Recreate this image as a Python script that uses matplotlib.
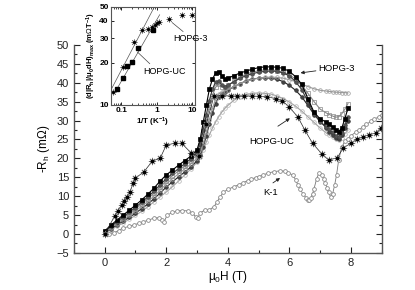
import matplotlib
matplotlib.use("Agg")
import matplotlib.pyplot as plt
from matplotlib.ticker import MultipleLocator, FixedLocator, NullFormatter, LogLocator

plt.rcParams['font.family'] = ['Liberation Sans', 'DejaVu Sans']
plt.rcParams['mathtext.fontset'] = 'custom'
plt.rcParams['mathtext.rm'] = 'Liberation Sans'
plt.rcParams['mathtext.it'] = 'Liberation Sans:italic'
plt.rcParams['mathtext.bf'] = 'Liberation Sans:bold'

# --- HOPG-3 curves at several temperatures (shared field grid) ---
field = [0, 0.2, 0.4, 0.6, 0.8, 1.0, 1.2, 1.4, 1.6, 1.8, 2.0, 2.2, 2.4, 2.6, 2.8, 3.0,
         3.1, 3.2, 3.3, 3.4, 3.5, 3.6, 3.7, 3.8, 3.9, 4.0, 4.2, 4.4, 4.6, 4.8, 5.0, 5.2,
         5.4, 5.6, 5.8, 6.0, 6.2, 6.4, 6.6, 6.8, 7.0, 7.2, 7.3, 7.4, 7.5, 7.6, 7.7, 7.8, 7.9]
hopg3_a = [0.8, 2.3, 3.7, 5.0, 6.3, 7.6, 9.0, 10.5, 12.1, 14.0, 15.6, 16.9, 18.2, 19.4, 20.6, 22.3,
           25.0, 29.5, 34.0, 38.3, 41.0, 42.5, 42.9, 41.8, 41.1, 41.2, 41.9, 42.6, 43.1, 43.6, 44.0, 44.2,
           44.2, 44.1, 43.8, 43.0, 41.6, 39.6, 35.8, 32.2, 30.4, 29.6, 29.0, 28.2, 27.4, 27.1, 28.0, 30.5, 33.2]
hopg3_b = [0.6, 2.0, 3.3, 4.5, 5.8, 7.0, 8.4, 9.8, 11.3, 13.0, 14.6, 16.0, 17.3, 18.6, 19.9, 21.6,
           23.8, 27.5, 31.5, 35.3, 38.3, 40.2, 40.5, 39.4, 39.0, 39.3, 40.3, 41.2, 41.9, 42.4, 42.8, 43.0,
           43.1, 43.0, 42.6, 41.8, 40.3, 38.2, 35.0, 31.8, 29.6, 28.4, 27.7, 26.9, 26.0, 25.7, 26.8, 28.8, 31.0]
hopg3_c = [0.5, 1.8, 3.0, 4.2, 5.4, 6.6, 7.9, 9.3, 10.8, 12.4, 14.0, 15.4, 16.7, 18.0, 19.3, 21.0,
           22.8, 26.0, 29.8, 33.5, 36.6, 38.8, 39.6, 39.0, 38.9, 39.3, 40.4, 41.5, 42.3, 42.8, 43.2, 43.4,
           43.4, 43.2, 42.8, 42.1, 41.0, 39.4, 37.2, 35.0, 33.0, 32.0, 31.6, 31.2, 30.9, 31.0, 31.8, 33.0, 34.5]
hopg3_d = [0.4, 1.6, 2.7, 3.8, 4.9, 6.1, 7.3, 8.6, 10.0, 11.6, 13.2, 14.6, 15.9, 17.2, 18.5, 20.1,
           21.6, 24.0, 27.0, 30.2, 33.2, 35.6, 37.0, 37.5, 37.8, 38.2, 39.0, 39.8, 40.4, 40.9, 41.2, 41.4,
           41.5, 41.4, 41.2, 40.8, 40.3, 39.6, 39.0, 38.4, 38.0, 37.8, 37.7, 37.6, 37.5, 37.5, 37.4, 37.4, 37.3]
hopg3_e = [0.3, 1.4, 2.4, 3.4, 4.4, 5.5, 6.7, 7.9, 9.3, 10.8, 12.4, 13.8, 15.1, 16.4, 17.7, 19.4,
           20.8, 23.0, 26.0, 29.0, 32.0, 34.5, 36.2, 37.0, 37.5, 38.0, 39.0, 39.8, 40.5, 41.0, 41.2, 41.3,
           41.2, 40.9, 40.3, 39.3, 38.0, 36.3, 34.0, 31.6, 29.8, 28.0, 27.0, 26.2, 25.5, 25.0, 26.2, 28.0, 30.0]
hopg3_f = [0.2, 1.1, 2.0, 2.9, 3.9, 4.9, 6.0, 7.2, 8.5, 9.8, 11.1, 12.5, 14.0, 15.6, 17.2, 19.0,
           20.3, 22.2, 24.3, 26.2, 28.0, 29.6, 31.0, 32.2, 33.2, 34.0, 35.4, 36.3, 36.9, 37.2, 37.3, 37.2,
           37.0, 36.5, 35.8, 34.9, 33.8, 32.5, 31.0, 29.5, 28.0, 26.7, 26.1, 25.6, 25.1, 24.9, 25.5, 26.5, 27.5]

# --- HOPG-UC ---
uc_field = [0, 0.33, 0.42, 0.55, 0.63, 0.73, 0.82, 0.93, 1.0, 1.27, 1.55, 1.8, 2.0, 2.27, 2.5, 2.8,
            3.05, 3.3, 3.55, 3.82, 4.09, 4.31, 4.52, 4.79, 5.02, 5.28, 5.55, 5.77, 5.98, 6.27, 6.5,
            6.75, 7.05, 7.27, 7.55, 7.75, 8.0, 8.2, 8.4, 8.57, 8.8, 8.96]
uc_rh = [0, 4.8, 6.1, 7.7, 8.7, 9.8, 11.1, 13.5, 14.8, 16.4, 19.3, 20.0, 23.5, 24.0, 24.0, 21.5,
         20.5, 29.0, 36.5, 36.6, 36.5, 36.5, 36.5, 36.5, 36.4, 36.3, 35.8, 35.2, 33.7, 31.0, 27.5,
         24.0, 21.2, 19.6, 20.1, 22.8, 24.0, 25.1, 25.7, 26.2, 26.7, 28.0]

# --- K-1 ---
k1_field = [0, 0.15, 0.3, 0.45, 0.6, 0.8, 0.95, 1.1, 1.25, 1.4, 1.6, 1.75, 1.85, 1.93, 2.03, 2.2,
            2.35, 2.5, 2.7, 2.85, 2.95, 3.02, 3.1, 3.25, 3.4, 3.55, 3.65, 3.75, 3.85, 4.0, 4.2,
            4.35, 4.5, 4.65, 4.75, 4.9, 5.0, 5.15, 5.3, 5.5, 5.7, 5.85, 5.97, 6.1, 6.2, 6.27,
            6.35, 6.45, 6.55, 6.6, 6.65, 6.7, 6.75, 6.8, 6.88, 6.95, 7.05, 7.12, 7.17, 7.22, 7.27,
            7.34, 7.4, 7.47, 7.53, 7.6, 7.7, 7.8, 7.9, 8.0, 8.15, 8.25, 8.4, 8.5, 8.65, 8.75, 8.9, 9.0]
k1_rh = [0, 0.1, 0.3, 0.9, 1.6, 2.0, 2.4, 2.8, 3.2, 3.6, 4.2, 4.3, 3.8, 3.2, 5.0, 5.7,
         6.1, 6.2, 6.1, 5.6, 4.6, 4.2, 5.6, 6.3, 6.4, 7.2, 8.5, 9.8, 11.0, 11.8, 12.5,
         13.0, 13.6, 14.1, 14.5, 14.9, 15.2, 15.6, 16.1, 16.5, 16.7, 16.6, 16.2, 15.6, 14.4, 13.0,
         11.8, 10.5, 9.5, 9.0, 9.1, 9.6, 10.6, 12.0, 14.5, 16.0, 15.6, 14.5, 13.5, 12.2, 11.0,
         9.8, 10.5, 13.0, 15.6, 19.6, 23.0, 24.5, 25.2, 26.0, 26.9, 27.5, 28.4, 29.0, 29.8, 30.3, 31.0, 31.6]

# --- inset data ---
inv_t_uc = [0.077, 0.114, 0.139, 0.193, 0.286, 0.77]
slope_uc = [12.9, 15.7, 19.0, 20.3, 25.4, 34.0]
inv_t_h3 = [0.059, 0.114, 0.22, 0.37, 0.55, 0.72, 0.88, 1.0, 1.13, 2.2, 5.2, 10.0]
slope_h3 = [12.3, 18.7, 28.0, 34.5, 34.9, 36.0, 37.3, 38.6, 39.0, 41.2, 44.0, 44.0]
fit_h3_x = [0.045, 0.82]
fit_h3_y = [12.1, 49.2]
fit_uc_x = [0.063, 1.2]
fit_uc_y = [12.1, 44.0]

fig = plt.figure(figsize=(4.15, 2.9), dpi=100)
ax = fig.add_axes([0.178, 0.128, 0.742, 0.717])

bundle = [
    (hopg3_f, 'o', 'none', '#b0b0b0', '#a0a0a0'),
    (hopg3_e, 'o', '#444444', '#333333', '#222222'),
    (hopg3_d, 'o', 'none', '#999999', '#999999'),
    (hopg3_c, 's', 'none', '#888888', '#888888'),
    (hopg3_b, 'o', '#555555', '#444444', '#333333'),
    (hopg3_a, 's', 'black', 'black', 'black'),
]
for ys, mk, fc, ec, lc in bundle:
    ax.plot(field, ys, color=lc, lw=0.8, marker=mk, ms=2.6, mfc=fc, mec=ec, mew=0.5)

ax.plot(k1_field, k1_rh, color='#777777', lw=0.6, marker='o', ms=2.7, mfc='white',
        mec='#888888', mew=0.6)

ax.plot(uc_field, uc_rh, color='#222222', lw=0.5, marker=(8, 2, 0), ms=5.2, mec='#707070', mew=0.55)
ax.plot(uc_field, uc_rh, ls='none', marker='o', ms=1.8, mfc='black', mec='black')

ax.set_xlim(-1, 9)
ax.set_ylim(-5, 50)
ax.xaxis.set_major_locator(MultipleLocator(2))
ax.xaxis.set_minor_locator(MultipleLocator(1))
ax.yaxis.set_major_locator(MultipleLocator(5))
ax.yaxis.set_minor_locator(MultipleLocator(2.5))
ax.tick_params(which='both', direction='in', right=True, labelsize=8, colors='#222222')
ax.tick_params(which='major', length=4, width=0.8)
ax.tick_params(which='minor', length=2.5, width=0.8)
ax.spines['top'].set_visible(False)
for s in ['left', 'right', 'bottom']:
    ax.spines[s].set_color('#555555')
    ax.spines[s].set_linewidth(1.0)
ax.set_xlabel(r'$\mathregular{\mu_0}$H (T)', fontsize=8.5, labelpad=1)
ax.set_ylabel(r'-R$\mathregular{_h}$ (m$\Omega$)', fontsize=8.5, labelpad=3)

arrow = dict(arrowstyle='-|>', color='#222222', lw=0.6, mutation_scale=5)
ax.annotate('HOPG-3', xy=(6.36, 42.6), xytext=(6.95, 43.9), fontsize=6.8,
            va='center', ha='left', arrowprops=dict(arrow, shrinkA=0, shrinkB=0))
ax.annotate('', xy=(6.09, 31.0), xytext=(5.55, 28.1), arrowprops=arrow)
ax.text(5.42, 24.4, 'HOPG-UC', fontsize=6.8, ha='center', va='center')
ax.annotate('', xy=(5.77, 15.2), xytext=(5.39, 13.1), arrowprops=arrow)
ax.text(5.39, 10.9, 'K-1', fontsize=6.8, ha='center', va='center')

# inset
ins = fig.add_axes([0.267, 0.638, 0.203, 0.338])
ins.set_xscale('log')
ins.set_yscale('log')
ins.plot(fit_h3_x, fit_h3_y, color='#555555', lw=0.5)
ins.plot(fit_uc_x, fit_uc_y, color='#555555', lw=0.5)
ins.plot(inv_t_h3, slope_h3, ls='none', marker=(8, 2, 0), ms=4.2, mec='#666666', mew=0.5)
ins.plot(inv_t_h3, slope_h3, ls='none', marker='o', ms=1.2, mfc='black', mec='black')
ins.plot(inv_t_uc, slope_uc, ls='none', marker='s', ms=3.3, mfc='black', mec='black')
ins.set_xlim(0.05, 12)
ins.set_ylim(10, 50)
ins.yaxis.set_major_locator(FixedLocator([10, 20, 30, 40, 50]))
ins.yaxis.set_minor_locator(FixedLocator([]))
ins.yaxis.set_major_formatter(plt.FixedFormatter(['10', '20', '30', '40', '50']))
ins.xaxis.set_major_locator(FixedLocator([0.1, 1, 10]))
ins.xaxis.set_major_formatter(plt.FixedFormatter(['0.1', '1', '10']))
ins.xaxis.set_minor_locator(LogLocator(base=10, subs=range(2, 10)))
ins.xaxis.set_minor_formatter(NullFormatter())
ins.tick_params(which='both', direction='in', top=True, right=True, labelsize=6, pad=1.5)
ins.tick_params(which='major', length=2.5, width=0.6)
ins.tick_params(which='minor', length=1.3, width=0.5)
for lab in ins.get_xticklabels() + ins.get_yticklabels():
    lab.set_fontweight('bold')
for s in ins.spines.values():
    s.set_color('#555555')
    s.set_linewidth(0.8)
ins.set_xlabel(r'1/T (K$\mathregular{^{-1}}$)', fontsize=5.8, fontweight='bold', labelpad=1)
ins.set_ylabel(r'(d|R$\mathregular{_h}$|/$\mathregular{\mu_0}$dH)$\mathregular{_{max}}$ (m$\Omega$T$\mathregular{^{-1}}$)',
               fontsize=5.5, fontweight='bold', labelpad=1)
ins.plot([2.7, 5.5], [38.7, 33.4], color='#444444', lw=0.5)
ins.text(2.9, 30, 'HOPG-3', fontsize=6.5, ha='left', va='center', clip_on=False)
ins.plot([0.286, 0.63], [23.8, 19.7], color='#444444', lw=0.5)
ins.text(0.4, 17.3, 'HOPG-UC', fontsize=6.5, ha='left', va='center')

fig.savefig('out.png', dpi=100)
